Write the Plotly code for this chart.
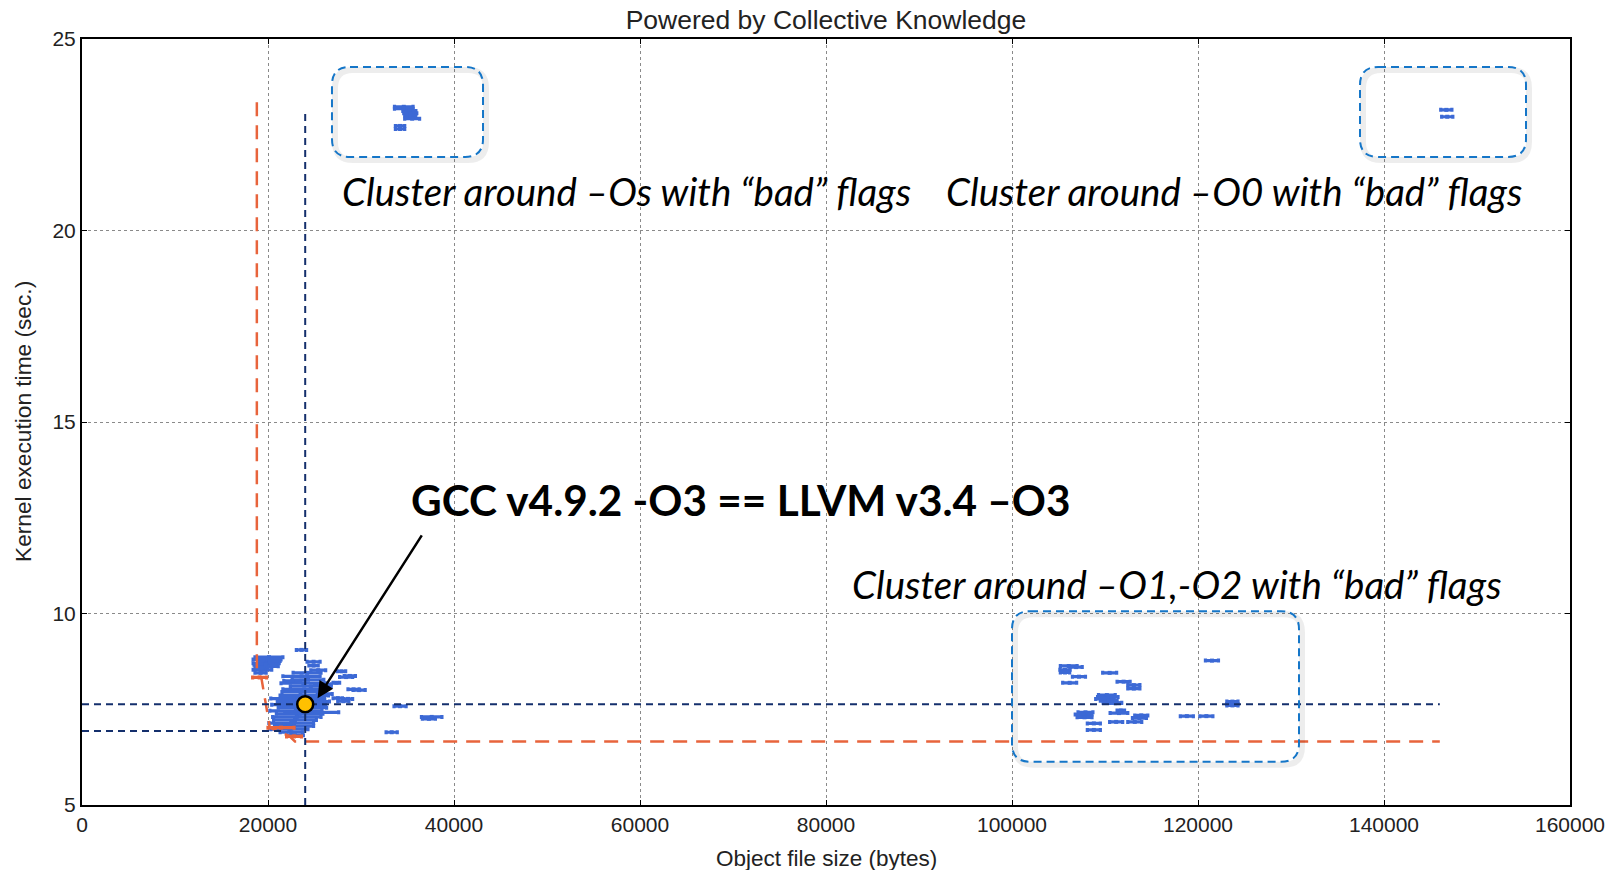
import plotly.graph_objects as go

# ---------------- data ----------------
# Main cluster around -O3 (object size in bytes, time in sec, half-width of x spread)
main_x = [20100, 19900, 19800, 19900, 19400, 19200, 19700, 20200, 19300,
          23600, 24900, 24900, 27900, 28400, 27350, 29800, 28800,
          24200, 23600, 24300, 23800, 24600, 23900, 23500, 25900, 26100,
          23900, 23200, 23800, 23300, 23700, 23000, 23400, 23100,
          22900, 22500, 22800, 22300, 22500, 22900,
          28600, 28100, 34200, 37600, 37300, 33300, 27500, 29200,
          25400, 22600, 24700, 21800]
main_y = [8.86, 8.80, 8.70, 8.62, 8.53, 8.45, 8.66, 8.76, 8.58,
          9.05, 8.74, 8.64, 8.49, 8.34, 8.19, 8.00, 8.37,
          8.45, 8.36, 8.27, 8.18, 8.10, 8.02, 7.95, 8.15, 7.90,
          7.86, 7.78, 7.70, 7.62, 7.54, 7.46, 7.38, 7.30,
          7.22, 7.14, 7.06, 6.98, 6.90, 6.82,
          7.77, 7.71, 7.58, 7.30, 7.25, 6.90, 7.79, 8.02,
          8.52, 8.24, 7.42, 7.10]
main_xerr = [1500, 1500, 1400, 1200, 1000, 600, 1200, 1100, 700,
             550, 700, 500, 450, 700, 350, 650, 600,
             1500, 2000, 1700, 2400, 2200, 2300, 2000, 900, 800,
             2600, 2900, 2800, 2900, 2600, 2800, 2500, 2600,
             2300, 2400, 2100, 2000, 1200, 900,
             500, 600, 650, 1100, 700, 600, 500, 600,
             800, 900, 2900, 1000]

# Cluster around -Os with "bad" flags
os_x = [34600, 34600, 35200, 35300, 35300, 35500, 34200, 34200]
os_y = [23.23, 23.18, 23.12, 23.06, 23.00, 22.92, 22.73, 22.65]
os_xerr = [1000, 1000, 700, 700, 600, 800, 500, 500]

# Cluster around -O0 with "bad" flags
o0_x = [146700, 146800]
o0_y = [23.15, 22.97]
o0_xerr = [600, 600]

# Cluster around -O1,-O2 with "bad" flags
o12_x = [106100, 106900, 105700, 105700, 107200, 106200, 110500, 112000, 113100, 113100,
         110200, 110300, 110000, 110400, 110800, 111100, 107900, 107700, 107800, 111500,
         111700, 113900, 113700, 108800, 111200, 113200, 108800, 118800, 120900, 121500,
         123700, 123700, 123700]
o12_y = [8.63, 8.60, 8.53, 8.46, 8.35, 8.19, 8.45, 8.22, 8.13, 8.04,
         7.87, 7.82, 7.77, 7.72, 7.67, 7.66, 7.42, 7.36, 7.29, 7.40,
         7.47, 7.34, 7.27, 7.13, 7.17, 7.17, 6.96, 7.32, 7.32, 8.77,
         7.70, 7.64, 7.60]
o12_xerr = [900, 650, 550, 500, 700, 750, 750, 700, 650, 650,
            900, 1100, 1000, 900, 1000, 650, 800, 900, 800, 950,
            400, 700, 750, 700, 700, 750, 700, 700, 700, 700,
            600, 600, 600]

# Pareto frontier points (red) and the frontier line
front_pts_x = [19100, 21400, 22800]
front_pts_y = [8.33, 7.02, 6.79]
front_pts_xerr = [750, 1400, 800]
front_line_x = [18800, 18800, 19300, 20200, 22300, 22900, 146000]
front_line_y = [23.35, 8.45, 8.30, 7.02, 6.80, 6.66, 6.66]

# Reference point: GCC -O3 == LLVM -O3
ref_x = [24000]
ref_y = [7.63]

# Reference guide lines (dark blue dashed)
vline_x = [24000, 24000]
vline_y = [5, 23.06]
hline1_x = [0, 146000]
hline1_y = [7.63, 7.63]
hline2_x = [0, 21500]
hline2_y = [6.93, 6.93]

# Axis ticks
x_ticks = [0, 20000, 40000, 60000, 80000, 100000, 120000, 140000, 160000]
y_ticks = [5, 10, 15, 20, 25]

# ---------------- styling ----------------
BLUE = "#3c69d5"
RED = "#e8643c"
NAVY = "#142f6c"
BOXC = "#1576c8"
FONT = "Liberation Sans, Arial, sans-serif"
XMIN, XMAX, YMIN, YMAX = 0, 160000, 5, 25
ML, MR, MT, MB = 82, 47, 39, 65
W, H = 1617, 870
PW, PH = W - ML - MR, H - MT - MB

fig = go.Figure()

def cluster(xs, ys, errs, color):
    fig.add_trace(go.Scatter(
        x=xs, y=ys, mode="markers",
        marker=dict(color=color, size=4, symbol="square"),
        error_x=dict(type="data", array=errs, color=color, thickness=3.2, width=2),
        error_y=dict(type="constant", value=0.03, color=color, thickness=1.5, width=0),
        hoverinfo="skip", showlegend=False))

cluster(main_x, main_y, main_xerr, BLUE)
cluster(os_x, os_y, os_xerr, BLUE)
cluster(o0_x, o0_y, o0_xerr, BLUE)
cluster(o12_x, o12_y, o12_xerr, BLUE)
cluster(front_pts_x, front_pts_y, front_pts_xerr, RED)

fig.add_trace(go.Scatter(x=front_line_x, y=front_line_y, mode="lines",
                         line=dict(color=RED, width=2.5, dash="14px,9px"),
                         hoverinfo="skip", showlegend=False))
for lx, ly in [(vline_x, vline_y), (hline1_x, hline1_y), (hline2_x, hline2_y)]:
    fig.add_trace(go.Scatter(x=lx, y=ly, mode="lines",
                             line=dict(color=NAVY, width=2, dash="7px,5px"),
                             hoverinfo="skip", showlegend=False))

fig.add_trace(go.Scatter(x=ref_x, y=ref_y, mode="markers",
                         marker=dict(color="#ffc000", size=16, line=dict(color="black", width=2.5)),
                         hoverinfo="skip", showlegend=False))

# rounded dashed boxes around clusters (data coords)
def rrect(x0, x1, y0, y1, rpx):
    rx = rpx * (XMAX - XMIN) / PW
    ry = rpx * (YMAX - YMIN) / PH
    return (f"M {x0+rx},{y1} L {x1-rx},{y1} Q {x1},{y1} {x1},{y1-ry} "
            f"L {x1},{y0+ry} Q {x1},{y0} {x1-rx},{y0} L {x0+rx},{y0} "
            f"Q {x0},{y0} {x0},{y0+ry} L {x0},{y1-ry} Q {x0},{y1} {x0+rx},{y1} Z")

boxes = [(26880, 43120, 21.92, 24.27), (137420, 155270, 21.92, 24.27), (100000, 130860, 6.13, 10.06)]
sx = 3 * (XMAX - XMIN) / PW
sy = 3 * (YMAX - YMIN) / PH
shapes = []
for (x0, x1, y0, y1) in boxes:
    shapes.append(dict(type="path", xref="x", yref="y", path=rrect(x0 + sx, x1 + sx, y0 - sy, y1 - sy, 18),
                       line=dict(color="rgba(0,0,0,0.07)", width=6), layer="above"))
    shapes.append(dict(type="path", xref="x", yref="y", path=rrect(x0, x1, y0, y1, 18),
                       line=dict(color=BOXC, width=2, dash="8px,5px"), layer="above"))

ann = []
CAP = dict(family="Lato, sans-serif", size=38.5, color="black")
ann.append(dict(x=58530, y=21.02, xref="x", yref="y", text="<i>Cluster around –Os with “bad” flags</i>",
                showarrow=False, font=CAP))
ann.append(dict(x=123880, y=21.02, xref="x", yref="y", text="<i>Cluster around –O0 with “bad” flags</i>",
                showarrow=False, font=CAP))
ann.append(dict(x=117790, y=10.76, xref="x", yref="y", text="<i>Cluster around –O1,-O2 with “bad” flags</i>",
                showarrow=False, font=CAP))
ann.append(dict(x=70840, y=12.97, xref="x", yref="y", text="<b>GCC v4.9.2 -O3 == LLVM v3.4 –O3</b>",
                showarrow=False, font=dict(family="Lato, sans-serif", size=42.3, color="black")))
ann.append(dict(x=25330, y=7.79, ax=36640, ay=12.08, xref="x", yref="y", axref="x", ayref="y",
                text="", showarrow=True, arrowhead=2, arrowsize=1.3, arrowwidth=2.5, arrowcolor="black"))
# axis titles
ann.append(dict(x=0.5, y=(H - 858 - MB) / PH, xref="paper", yref="paper", text="Object file size (bytes)",
                showarrow=False, font=dict(family=FONT, size=22.5, color="#222"), yanchor="middle"))
ann.append(dict(x=(23 - ML) / PW, y=0.5, xref="paper", yref="paper", text="Kernel execution time (sec.)",
                showarrow=False, textangle=-90, font=dict(family=FONT, size=22.7, color="#222"), xanchor="center"))

fig.update_layout(
    width=W, height=H,
    margin=dict(l=ML, r=MR, t=MT, b=MB),
    plot_bgcolor="white", paper_bgcolor="white",
    showlegend=False,
    title=dict(text="Powered by Collective Knowledge", x=0.5, xref="paper", xanchor="center",
               y=1 - 20 / H, yref="container", yanchor="middle",
               font=dict(family=FONT, size=26.5, color="#222")),
    shapes=shapes, annotations=ann,
)
axis_common = dict(showline=True, linecolor="black", linewidth=2, mirror="ticks",
                   ticks="inside", ticklen=5, tickcolor="black", tickwidth=1,
                   showgrid=True, gridcolor="#8a8a8a", griddash="dot", gridwidth=1,
                   zeroline=False, tickfont=dict(family=FONT, size=21, color="#222"))
fig.update_xaxes(range=[XMIN, XMAX], tickvals=x_ticks, ticktext=[str(v) for v in x_ticks], **axis_common)
fig.update_yaxes(range=[YMIN, YMAX], tickvals=y_ticks, ticktext=[str(v) for v in y_ticks], **axis_common)

fig.write_html("out.html")
